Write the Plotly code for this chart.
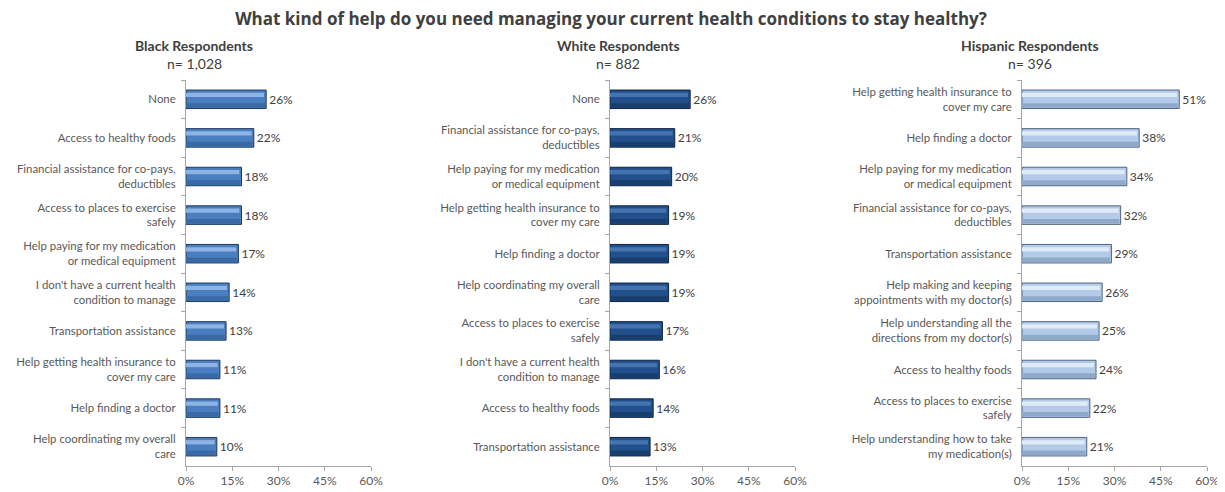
import plotly.graph_objects as go

# --- DATA ---
TITLE = "What kind of help do you need managing your current health conditions to stay healthy?"

black_labels = ["None", "Access to healthy foods", "Financial assistance for co-pays,<br>deductibles",
                "Access to places to exercise<br>safely", "Help paying for my medication<br>or medical equipment",
                "I don't have a current health<br>condition to manage", "Transportation assistance",
                "Help getting health insurance to<br>cover my care", "Help finding a doctor",
                "Help coordinating my overall<br>care"]
black_values = [0.26, 0.22, 0.18, 0.18, 0.17, 0.14, 0.13, 0.11, 0.11, 0.10]

white_labels = ["None", "Financial assistance for co-pays,<br>deductibles",
                "Help paying for my medication<br>or medical equipment",
                "Help getting health insurance to<br>cover my care", "Help finding a doctor",
                "Help coordinating my overall<br>care", "Access to places to exercise<br>safely",
                "I don't have a current health<br>condition to manage", "Access to healthy foods",
                "Transportation assistance"]
white_values = [0.26, 0.21, 0.20, 0.19, 0.19, 0.19, 0.17, 0.16, 0.14, 0.13]

hisp_labels = ["Help getting health insurance to<br>cover my care", "Help finding a doctor",
               "Help paying for my medication<br>or medical equipment",
               "Financial assistance for co-pays,<br>deductibles", "Transportation assistance",
               "Help making and keeping<br>appointments with my doctor(s)",
               "Help understanding all the<br>directions from my doctor(s)", "Access to healthy foods",
               "Access to places to exercise<br>safely", "Help understanding how to take<br>my medication(s)"]
hisp_values = [0.51, 0.38, 0.34, 0.32, 0.29, 0.26, 0.25, 0.24, 0.22, 0.21]

panel_titles = ["Black Respondents", "White Respondents", "Hispanic Respondents"]
panel_n = ["n= 1,028", "n= 882", "n= 396"]

# --- STYLE ---
PAD = 8                          # page body margin the browser adds
W, H = 1225 - PAD, 492 - PAD
FONT = "Lato"
TXT = "#595959"
# (main, highlight, shadow, outline)
COLORS = [("#4a7ec0", "#8db4e2", "#3a6aa6", "#1f3a60"),
          ("#22508c", "#4473b0", "#183e6e", "#0e2342"),
          ("#b3cbe8", "#e0ebf8", "#8fa9c9", "#4f6580")]
X0 = [186, 610, 1022]   # screen pixel of 0%
XW = 185                # pixel width of 0-60%
Y_TOP, Y_BOT = 80, 466


def px_x(x):
    return (x - PAD) / W


def px_y(y):
    return 1 - (y - PAD) / H


fig = go.Figure()
panels = [(black_labels, black_values), (white_labels, white_values), (hisp_labels, hisp_values)]

for i, (labels, values) in enumerate(panels):
    main, hi, sh, edge = COLORS[i]
    xa = "x" if i == 0 else f"x{i+1}"
    ya = "y" if i == 0 else f"y{i+1}"
    fig.add_trace(go.Bar(
        x=values, y=labels, orientation="h", xaxis=xa, yaxis=ya, width=0.48,
        marker=dict(color=main, line=dict(color=edge, width=1)),
        text=[f"{v:.0%}" for v in values], textposition="outside",
        textfont=dict(family=FONT, size=12, color="#404040"),
        cliponaxis=False, showlegend=False, hoverinfo="x+y"))
    # lower shading strip
    fig.add_trace(go.Bar(
        x=[v - 0.004 for v in values], y=labels, orientation="h", xaxis=xa, yaxis=ya,
        width=0.12, offset=0.1, marker=dict(color=sh, line=dict(width=0)),
        showlegend=False, hoverinfo="skip"))
    # upper highlight strip
    fig.add_trace(go.Bar(
        x=[v - 0.007 for v in values], y=labels, orientation="h", xaxis=xa, yaxis=ya,
        width=0.11, offset=-0.17, marker=dict(color=hi, line=dict(width=0)),
        showlegend=False, hoverinfo="skip"))

    xd = [px_x(X0[i]), px_x(X0[i] + XW)]
    yd = [px_y(Y_BOT), px_y(Y_TOP)]
    xkey = "xaxis" if i == 0 else f"xaxis{i+1}"
    ykey = "yaxis" if i == 0 else f"yaxis{i+1}"
    fig.update_layout(**{
        xkey: dict(domain=xd, anchor=ya, range=[0, 0.6], dtick=0.15, tickformat=".0%",
                   showgrid=False, zeroline=False, showline=True, linecolor="#a6a6a6",
                   ticks="outside", ticklen=4, tickcolor="#a6a6a6", automargin=False,
                   tickfont=dict(family=FONT, size=12, color=TXT)),
        ykey: dict(domain=yd, anchor=xa, categoryorder="array", categoryarray=labels,
                   autorange="reversed", showgrid=False, showline=True, linecolor="#a6a6a6",
                   ticks="outside", ticklen=4, tickcolor="#a6a6a6", tickson="boundaries",
                   ticklabelstandoff=7, automargin=False,
                   tickfont=dict(family=FONT, size=11.4, color=TXT)),
    })
    cx = px_x(X0[i] + 8)
    fig.add_annotation(text=f"<b>{panel_titles[i]}</b>", x=cx, y=px_y(45), xref="paper", yref="paper",
                       xanchor="center", yanchor="middle", showarrow=False,
                       font=dict(family=FONT, size=14, color="#404040"))
    fig.add_annotation(text=panel_n[i], x=cx, y=px_y(63), xref="paper", yref="paper",
                       xanchor="center", yanchor="middle", showarrow=False,
                       font=dict(family=FONT, size=14, color="#404040"))

fig.update_layout(
    title=dict(text=f"<b>{TITLE}</b>", x=px_x(611), xanchor="center", xref="paper",
               y=px_y(19.5), yanchor="middle", yref="paper",
               font=dict(family="Open Sans", size=17, color="#404040")),
    width=W, height=H, margin=dict(l=0, r=0, t=0, b=0, autoexpand=False),
    barmode="overlay", bargap=0.5,
    paper_bgcolor="white", plot_bgcolor="white",
    font=dict(family=FONT, color=TXT),
)

fig.write_html("out.html")
